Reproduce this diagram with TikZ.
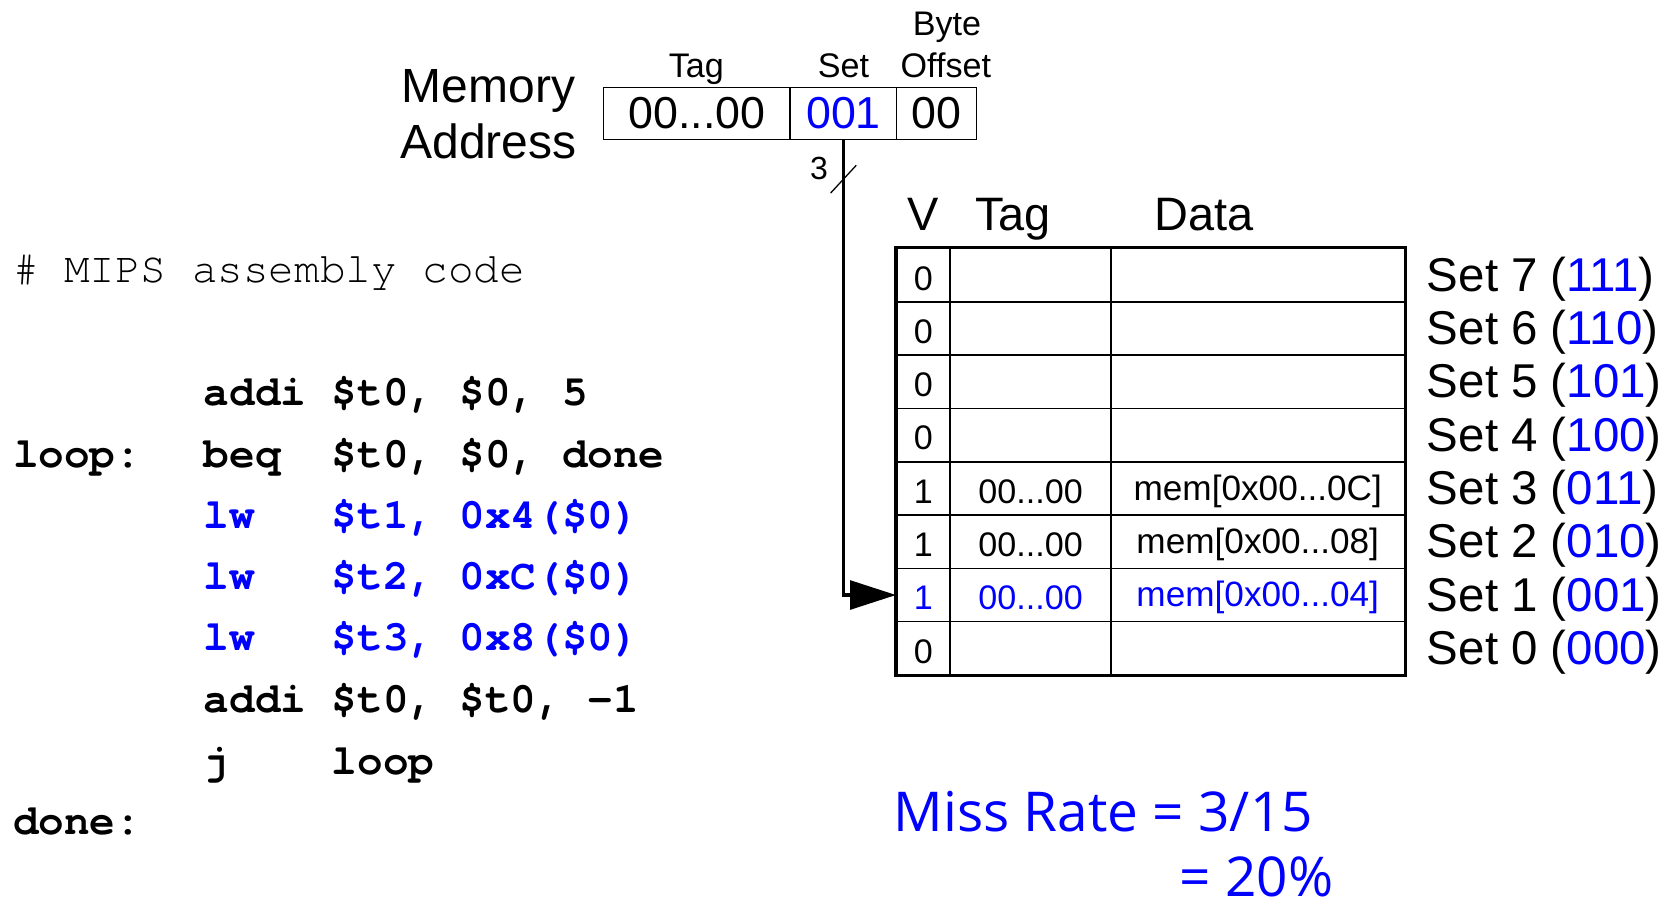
\documentclass[tikz,border=0pt]{standalone}
\usepackage{fontspec}
\setmainfont{Liberation Sans}
\newfontfamily\codefont{TeX Gyre Cursor}
\newfontfamily\notefont{Open Sans}
\usetikzlibrary{arrows.meta}
\newcommand\fsz[1]{\fontsize{#1}{#1}\selectfont}

\tikzset{
  field/.style={draw, line width=1.3pt, minimum height=49pt, inner sep=0pt, font=\fsz{42}},
  small/.style={anchor=base, inner sep=0pt, font=\fsz{32}},
  big/.style={inner sep=0pt, font=\fsz{45}},
  head/.style={anchor=base, inner sep=0pt, font=\fsz{44}},
  cell/.style={draw, line width=1.5pt, minimum height=50pt, inner sep=0pt,
               font=\fsz{32}, text height=30pt, text depth=2pt},
  vcell/.style={cell, minimum width=50pt},
  tcell/.style={cell, minimum width=151pt},
  dcell/.style={cell, minimum width=275pt, font=\fsz{33}, text height=26pt, text depth=4pt},
  setlab/.style={anchor=base west, inner sep=0pt, font=\fsz{44.5}},
  code/.style={anchor=base west, inner sep=0pt, font=\codefont\fsz{40}\bfseries},
  note/.style={anchor=base west, inner sep=0pt, text=blue, font=\notefont\fsz{51.5}},
}

\begin{document}
\begin{tikzpicture}[x=1pt, y=-1pt]
\useasboundingbox (0,0) rectangle (1568,852);

% memory address fields
\node[big, anchor=base] (mem) at (458,96) {Memory};
\node[big, anchor=base] (addr) at (458,149) {Address};
\node[field, minimum width=175pt] (tagf) at (653.5,106.5) {00...00};
\node[field, minimum width=100pt, text=blue] (setf) at (791,106.5) {001};
\node[field, minimum width=75pt] (offf) at (878.5,106.5) {00};
\node[small] (tagl) at (653,72.5) {Tag};
\node[small] (setl) at (791,72.5) {Set};
\node[small] (offl) at (887,72.5) {Offset};
\node[small] (bytel) at (888,33.5) {Byte};

% cache table header
\node[head] (hv) at (866,216) {V};
\node[head] (ht) at (950,216) {Tag};
\node[head] (hd) at (1129,216) {Data};

% cache rows (set 7 at the top)
\foreach \r in {7,6,5,4,0} {
  \pgfmathsetmacro\yc{258+(7-\r)*50}
  \node[vcell] (v\r) at (866,\yc) {0};
  \node[tcell] (t\r) at (966.5,\yc) {};
  \node[dcell] (d\r) at (1179.5,\yc) {};
}
\node[vcell] (v3) at (866,458) {1};
\node[tcell] (t3) at (966.5,458) {00...00};
\node[dcell] (d3) at (1179.5,458) {mem[0x00...0C]};
\node[vcell] (v2) at (866,508) {1};
\node[tcell] (t2) at (966.5,508) {00...00};
\node[dcell] (d2) at (1179.5,508) {mem[0x00...08]};
\node[vcell, text=blue] (v1) at (866,558) {1};
\node[tcell, text=blue] (t1) at (966.5,558) {00...00};
\node[dcell, text=blue] (d1) at (1179.5,558) {mem[0x00...04]};
\draw[line width=3pt] (v7.north west) rectangle (d0.south east);

% set labels
\foreach \r/\b in {7/111,6/110,5/101,4/100,3/011,2/010,1/001,0/000} {
  \pgfmathsetmacro\yb{273+(7-\r)*50}
  \node[setlab] (s\r) at (1338,\yb) {Set \r\ (\textcolor{blue}{\b})};
}

% set index bus into the cache
\draw[line width=3pt, -{Triangle[length=43pt,width=27pt]}] (setf.south) |- (v1.west);
\coordinate (cut) at (791,168);
\draw[line width=1.2pt] ([shift={(-12,13)}]cut) -- ([shift={(12,-13)}]cut);
\node[anchor=base, inner sep=0pt, font=\fsz{30}] (bits) at (768,168) {3};

% assembly program
\node[anchor=base west, inner sep=0pt, font=\codefont\fsz{40}] (cmt) at (12,265) {\# MIPS assembly code};
\node[code] (o1) at (191,380) {addi};
\node[code] (a1) at (311,380) {\$t0, \$0, 5};
\node[code] (lp) at (12,438) {loop:};
\node[code] (o2) at (191,438) {beq};
\node[code] (a2) at (311,438) {\$t0, \$0, done};
\node[code, text=blue] (o3) at (191,496) {lw};
\node[code, text=blue] (a3) at (311,496) {\$t1, 0x4(\$0)};
\node[code, text=blue] (o4) at (191,553) {lw};
\node[code, text=blue] (a4) at (311,553) {\$t2, 0xC(\$0)};
\node[code, text=blue] (o5) at (191,610) {lw};
\node[code, text=blue] (a5) at (311,610) {\$t3, 0x8(\$0)};
\node[code] (o6) at (191,668) {addi};
\node[code] (a6) at (311,668) {\$t0, \$t0, -1};
\node[code] (o7) at (191,726) {j};
\node[code] (a7) at (311,726) {loop};
\node[code] (dn) at (12,783) {done:};

% miss rate
\node[note] (mr) at (838,780) {Miss Rate = 3/15};
\node[note] (pct) at (1106,841) {= 20\%};
\end{tikzpicture}
\end{document}
